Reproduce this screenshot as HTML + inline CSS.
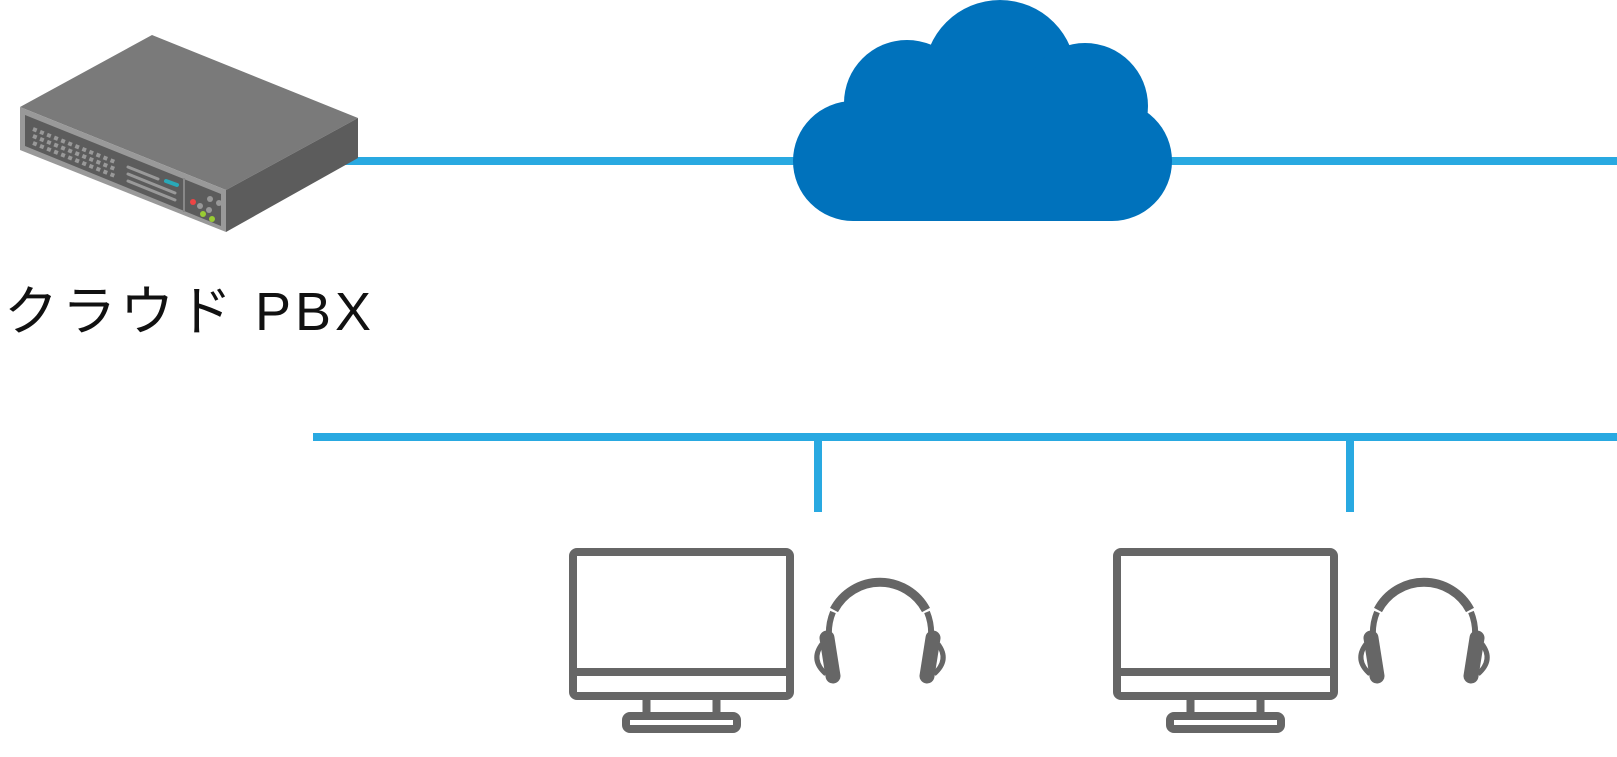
<!DOCTYPE html>
<html><head><meta charset="utf-8"><style>
html,body{margin:0;padding:0;background:#fff;width:1617px;height:757px;overflow:hidden}
svg{display:block}
</style></head><body>
<svg width="1617" height="757" viewBox="0 0 1617 757" xmlns="http://www.w3.org/2000/svg">
<defs>
<g id="pc" fill="none" stroke="#666" stroke-width="8" stroke-linejoin="round">
 <rect x="573" y="552" width="217" height="144" rx="4"/>
 <line x1="573" y1="672" x2="790" y2="672"/>
 <line x1="646.5" y1="698" x2="646.5" y2="712"/>
 <line x1="716.5" y1="698" x2="716.5" y2="712"/>
 <rect x="626" y="716" width="111" height="13" rx="4"/>
 <path d="M834 610 A52 52 0 0 1 926 610" stroke-width="9"/>
 <path d="M833 612 Q828 624 829 638 M927 612 Q932 624 931 638" stroke-width="6"/>
 <line x1="827" y1="638" x2="833" y2="676" stroke-width="15" stroke-linecap="round"/>
 <line x1="933" y1="638" x2="927" y2="676" stroke-width="15" stroke-linecap="round"/>
 <path d="M822 644 Q810 660 826 674" stroke-width="5"/>
 <path d="M938 644 Q950 660 934 674" stroke-width="5"/>
</g>
</defs>
<rect x="330" y="157" width="470" height="8" fill="#29A9E1"/>
<rect x="1165" y="157" width="452" height="8" fill="#29A9E1"/>
<rect x="313" y="433" width="1304" height="8" fill="#29A9E1"/>
<rect x="814" y="441" width="8" height="71" fill="#29A9E1"/>
<rect x="1346" y="441" width="8" height="71" fill="#29A9E1"/>
<polygon points="20,107 152,35 358,118 226,190" fill="#7a7a7a"/>
<polygon points="226,190 358,118 358,158 226,232" fill="#5c5c5c"/>
<polygon points="20,107 226,190 226,232 20,150" fill="#999"/>
<polygon points="25,115 221,194 221,226 25,146" fill="#5c5c5c"/>
<line x1="184" y1="178" x2="184" y2="212" stroke="#888" stroke-width="2"/>
<g stroke="#999" stroke-width="3" stroke-linecap="round">
<line x1="128" y1="167" x2="158" y2="179"/>
<line x1="128" y1="174" x2="175" y2="193"/>
<line x1="128" y1="181" x2="175" y2="200"/>
</g>
<line x1="166" y1="181" x2="177" y2="185" stroke="#2aa9b8" stroke-width="4" stroke-linecap="round"/>
<g fill="#999">
<circle cx="200" cy="206" r="3"/><circle cx="209" cy="210" r="3"/><circle cx="210" cy="199" r="3"/><circle cx="219" cy="203" r="3"/>
</g>
<circle cx="193" cy="202" r="3" fill="#e44"/>
<circle cx="203" cy="214" r="3" fill="#9c3"/>
<circle cx="212" cy="219" r="3" fill="#9c3"/>
<path d="M33 129 l82 33 M33 136 l82 33 M33 143 l82 33" stroke="#999" stroke-width="4" stroke-dasharray="4 3.6"/>
<g fill="#0072BC">
<circle cx="1000" cy="76" r="76"/>
<circle cx="907" cy="103" r="63"/>
<circle cx="1085" cy="106" r="63"/>
<circle cx="853" cy="161" r="60"/>
<circle cx="1112" cy="161" r="60"/>
<rect x="853" y="100" width="259" height="121"/>
</g>
<text x="4" y="330" font-family="'Liberation Sans','Noto Sans CJK JP',sans-serif" font-size="54" letter-spacing="4" fill="#111">クラウド PBX</text>
<use href="#pc"/>
<use href="#pc" x="544"/>
</svg>
</body></html>
